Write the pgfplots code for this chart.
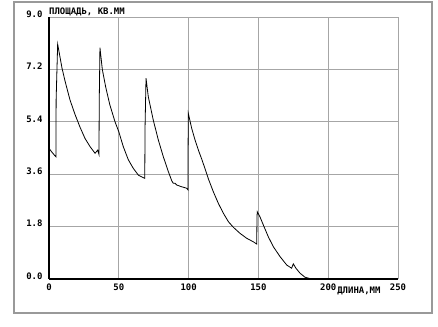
\documentclass[border=0pt]{standalone}
\usepackage{fontspec}
\setmonofont{DejaVu Sans Mono}
\usepackage{pgfplots}
\pgfplotsset{compat=1.18}
\begin{document}
\begin{tikzpicture}[font=\ttfamily\bfseries\fontsize{9}{10}\selectfont]
\path[use as bounding box] (-49bp,-48bp) rectangle (389bp,279bp);
\draw[gray!80, line width=1.2bp] (-35bp,-34bp) rectangle (383bp,277bp);
\begin{axis}[
  at={(0,0)}, anchor=origin,
  x=1.396bp, y=29.1bp,
  xmin=0, xmax=250, ymin=0, ymax=9,
  axis x line*=bottom, axis y line*=left,
  axis line style={black, line width=1.2bp, -},
  xtick={0,50,...,250}, ytick={0,1.8,3.6,5.4,7.2,9},
  major tick length=0pt,
  grid=major,
  major grid style={gray!70, line width=1bp},
  yticklabel style={/pgf/number format/fixed, /pgf/number format/fixed zerofill, /pgf/number format/precision=1, yshift=3bp, xshift=-3bp},
  xticklabel style={yshift=-1bp},
  /pgf/number format/assume math mode=true,
  clip=false,
]
\addplot[black, line width=0.8bp, mark=none] coordinates {
(0,4.49) (1.9,4.37) (3.8,4.26) (5,4.2) (5.1,6.15) (6.2,8.07)
(7.6,7.7) (9.3,7.25) (11.5,6.8) (15,6.16) (18.6,5.66) (22.2,5.22) (25.8,4.83) (29.4,4.55) (33,4.32) (34.9,4.43) (35.8,4.28) (36,6.15) (36.5,7.95)
(38.2,7.2) (40.6,6.6) (43.5,6.0) (47.3,5.4) (50,5.06) (53.2,4.55) (56.8,4.1) (60.4,3.8) (64,3.57) (67.6,3.48) (68.6,3.46) (68.8,5.2) (69.5,6.9)
(71.1,6.27) (74.7,5.46) (78.3,4.78) (81.9,4.2) (85.5,3.69) (87.9,3.38) (89,3.29) (90.3,3.29) (91.5,3.23) (95,3.17) (98.6,3.12) (99.6,3.06) (99.6,4.32) (99.8,5.69)
(102.2,5.18) (104.6,4.78) (107,4.43) (109.4,4.12) (111.7,3.8) (114.1,3.45) (117.7,3.0) (121.3,2.6) (124.9,2.26) (128.5,1.97) (132,1.78) (136.8,1.57) (141.6,1.4) (146.3,1.28) (148.8,1.2) (149,2.14) (149.2,2.31)
(151.1,2.14) (153.5,1.86) (157.1,1.45) (160.7,1.11) (165.5,0.77) (170.3,0.48) (173.8,0.37) (175,0.52) (176.9,0.37) (179.8,0.2) (183.4,0.06) (188.2,0)
};
\node[anchor=west, inner sep=0pt] at (axis cs:0,9) [yshift=5bp] {ПЛОЩАДЬ, КВ.ММ};
\node[inner sep=0pt] at (axis cs:222,0) [yshift=-12bp] {ДЛИНА,ММ};
\end{axis}
\end{tikzpicture}
\end{document}
